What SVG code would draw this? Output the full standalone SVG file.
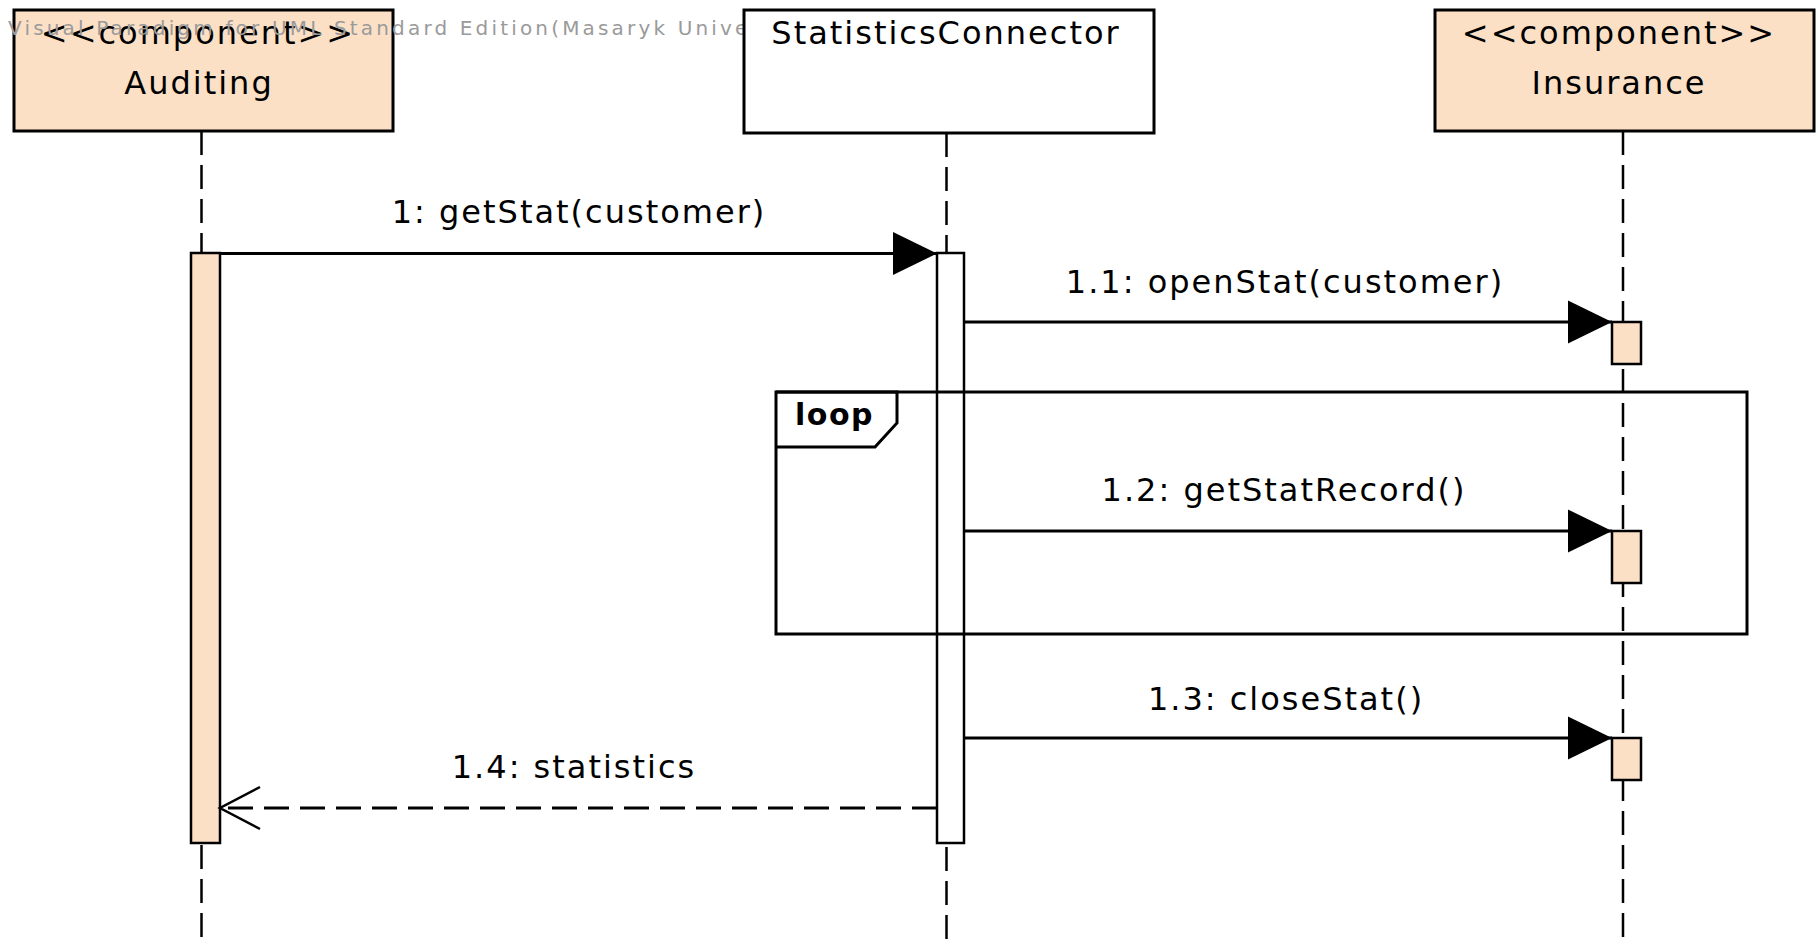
<svg xmlns="http://www.w3.org/2000/svg" width="1818" height="947" viewBox="0 0 1818 947">
  <style>
    .box { stroke: #000; stroke-width: 3; }
    .comp { fill: #FBE0C6; }
    .plain { fill: #fff; }
    .t { font-family: "DejaVu Sans", "Liberation Sans", sans-serif; font-size: 32px; letter-spacing: 2px; fill: #000; text-anchor: middle; }
    .life { stroke: #000; stroke-width: 2.5; stroke-dasharray: 24 10; fill: none; }
    .act { stroke: #000; stroke-width: 2.5; }
    .msg { stroke: #000; stroke-width: 3; fill: none; }
    .ret { stroke-dasharray: 25 11; }
    .wm { font-family: "DejaVu Sans", sans-serif; font-size: 20px; fill: #9a9a9a; }
    .frame { fill: none; stroke: #000; stroke-width: 3; }
  </style>
  <defs>
    <marker id="filled" markerUnits="userSpaceOnUse" markerWidth="44" markerHeight="43" refX="44" refY="21.5" orient="auto" overflow="visible">
      <path d="M0,0 L44,21.5 L0,43 Z" fill="#000"/>
    </marker>
    <marker id="open" markerUnits="userSpaceOnUse" markerWidth="42" markerHeight="44" refX="40" refY="21" orient="auto" overflow="visible">
      <path d="M0,0 L40,21 L0,42" fill="none" stroke="#000" stroke-width="2.5"/>
    </marker>
  </defs>
  <rect x="0" y="0" width="1818" height="947" fill="#fff"/>

  <g id="node-auditing">
    <line class="life" x1="201.5" y1="131" x2="201.5" y2="947"/>
    <rect class="box comp" x="14" y="10" width="379" height="121"/>
    <text class="t" x="198" y="44">&lt;&lt;component&gt;&gt;</text>
    <text class="t" x="199" y="94">Auditing</text>
    <rect class="act comp" x="191" y="253" width="29" height="590"/>
  </g>

  <text class="wm" x="8" y="35" textLength="810" lengthAdjust="spacing">Visual Paradigm for UML Standard Edition(Masaryk University)</text>

  <g id="node-statisticsconnector">
    <line class="life" x1="946.5" y1="133" x2="946.5" y2="947"/>
    <rect class="box plain" x="744" y="10" width="410" height="123"/>
    <text class="t" x="946" y="44">StatisticsConnector</text>
    <rect class="act plain" x="937" y="253" width="27" height="590"/>
  </g>

  <g id="node-insurance">
    <line class="life" x1="1623" y1="131" x2="1623" y2="947"/>
    <rect class="box comp" x="1435" y="10" width="379" height="121"/>
    <text class="t" x="1619" y="44">&lt;&lt;component&gt;&gt;</text>
    <text class="t" x="1619" y="94">Insurance</text>
    <rect class="act comp" x="1612" y="322" width="29" height="42"/>
    <rect class="act comp" x="1612" y="531" width="29" height="52"/>
    <rect class="act comp" x="1612" y="738" width="29" height="42"/>
  </g>

  <g id="fragment-loop">
    <rect class="frame" x="776" y="392" width="971" height="242"/>
    <path class="frame" d="M776,392 L897,392 L897,423 L875,447 L776,447"/>
    <text x="795" y="425" font-family="DejaVu Sans, sans-serif" font-size="30" font-weight="bold" letter-spacing="1.5" fill="#000">loop</text>
  </g>

  <g id="connectors">
    <line class="msg" x1="220" y1="253.5" x2="937" y2="253.5" marker-end="url(#filled)"/>
    <text class="t" x="579" y="223">1: getStat(customer)</text>

    <line class="msg" x1="964" y1="322" x2="1612" y2="322" marker-end="url(#filled)"/>
    <text class="t" x="1285" y="293">1.1: openStat(customer)</text>

    <line class="msg" x1="964" y1="531" x2="1612" y2="531" marker-end="url(#filled)"/>
    <text class="t" x="1284" y="501">1.2: getStatRecord()</text>

    <line class="msg" x1="964" y1="738" x2="1612" y2="738" marker-end="url(#filled)"/>
    <text class="t" x="1286" y="710">1.3: closeStat()</text>

    <line class="msg ret" x1="937" y1="808" x2="220" y2="808" marker-end="url(#open)"/>
    <text class="t" x="574" y="778">1.4: statistics</text>
  </g>
</svg>
